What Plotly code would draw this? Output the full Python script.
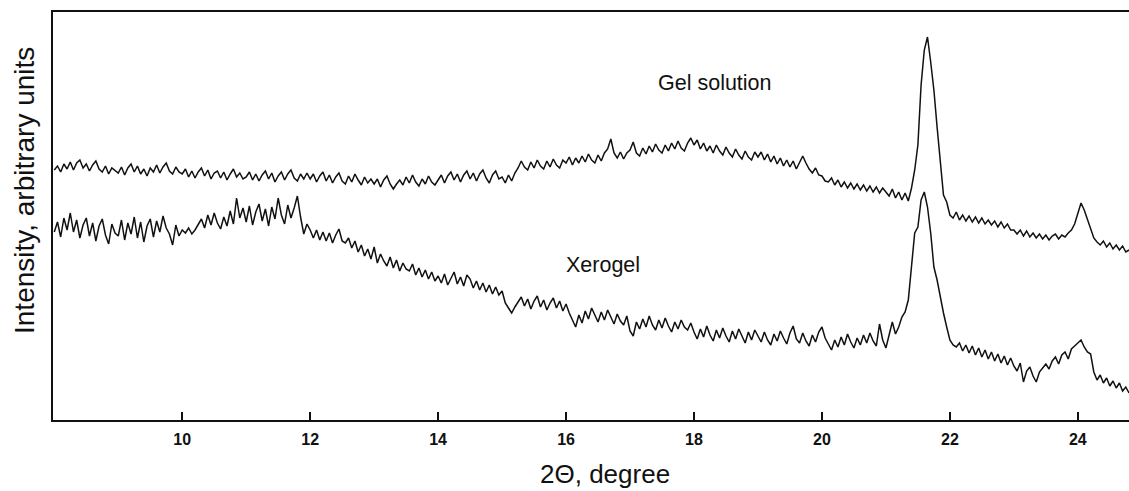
import numpy as np
import plotly.graph_objects as go

# Scan grid of the diffractometer: 2-theta from 8.00 to 24.80 deg, step 0.05 deg
scan_start = 8.0
scan_step = 0.05
n_points = 337
two_theta = np.round(scan_start + scan_step * np.arange(n_points), 2)

# Gel solution intensity (arbitrary units), one row per degree
gel_solution = (
    [250, 254, 248, 256, 251, 258, 250, 257, 260, 252, 256, 249, 255, 259, 251, 248, 254, 246, 252, 249] +
    [247, 253, 245, 252, 256, 248, 254, 246, 251, 244, 252, 248, 255, 247, 253, 257, 249, 246, 253, 248] +
    [246, 251, 243, 249, 242, 248, 252, 244, 250, 241, 247, 249, 242, 248, 240, 246, 251, 243, 247, 241] +
    [243, 248, 240, 246, 239, 245, 249, 241, 247, 238, 244, 248, 240, 246, 250, 242, 239, 246, 241, 247] +
    [241, 246, 238, 244, 248, 239, 245, 237, 243, 247, 239, 236, 244, 238, 246, 240, 235, 243, 237, 241] +
    [236, 241, 233, 240, 244, 236, 231, 236, 240, 235, 243, 237, 245, 238, 234, 241, 236, 244, 238, 235] +
    [240, 245, 237, 244, 248, 240, 246, 238, 245, 249, 241, 247, 239, 246, 250, 242, 237, 245, 249, 241] +
    [243, 237, 245, 239, 247, 252, 259, 253, 250, 258, 252, 260, 254, 251, 259, 253, 261, 255, 252, 260] +
    [257, 263, 255, 262, 257, 264, 258, 266, 260, 257, 265, 259, 267, 271, 281, 267, 262, 268, 261, 267] +
    [270, 278, 267, 264, 272, 266, 274, 268, 276, 270, 267, 275, 269, 277, 271, 279, 272, 269, 277, 282] +
    [275, 280, 271, 277, 269, 274, 267, 275, 269, 265, 273, 267, 263, 271, 265, 261, 269, 263, 260, 268] +
    [263, 268, 260, 266, 258, 264, 256, 262, 254, 260, 253, 259, 251, 257, 264, 257, 251, 247, 252, 245] +
    [244, 239, 238, 242, 235, 240, 233, 238, 232, 237, 231, 236, 230, 235, 229, 234, 228, 233, 227, 232] +
    [228, 224, 231, 222, 228, 220, 227, 219, 232, 250, 275, 335, 370, 383, 358, 330, 293, 255, 225, 218] +
    [205, 202, 208, 200, 205, 199, 204, 198, 203, 197, 202, 196, 200, 195, 199, 193, 198, 192, 196, 190] +
    [190, 186, 190, 184, 189, 183, 187, 182, 186, 181, 185, 180, 184, 186, 181, 185, 183, 187, 190, 196] +
    [207, 217, 210, 200, 190, 182, 178, 175, 179, 173, 177, 171, 175, 170, 174, 168, 170]
)

# Xerogel intensity (arbitrary units), one row per degree
xerogel = (
    [188, 198, 183, 202, 190, 207, 188, 200, 182, 195, 202, 184, 197, 179, 194, 201, 185, 176, 196, 187] +
    [184, 200, 180, 197, 186, 203, 182, 198, 178, 194, 201, 183, 199, 188, 204, 192, 186, 175, 195, 184] +
    [190, 187, 192, 186, 190, 196, 201, 192, 205, 195, 207, 197, 191, 203, 194, 209, 196, 222, 202, 212] +
    [198, 214, 195, 208, 216, 199, 211, 194, 213, 201, 222, 205, 196, 215, 202, 212, 224, 203, 186, 196] +
    [190, 182, 190, 180, 188, 179, 187, 177, 185, 191, 179, 177, 182, 172, 179, 168, 175, 164, 171, 161] +
    [173, 157, 166, 159, 154, 163, 152, 160, 149, 157, 151, 149, 156, 145, 152, 143, 150, 141, 148, 139] +
    [144, 137, 146, 135, 142, 148, 136, 143, 134, 145, 141, 132, 139, 130, 137, 128, 135, 126, 133, 125] +
    [129, 117, 112, 107, 113, 118, 123, 114, 121, 111, 119, 124, 113, 120, 110, 117, 122, 112, 119, 109] +
    [116, 107, 99, 93, 105, 97, 109, 101, 112, 104, 98, 108, 100, 110, 102, 96, 106, 99, 95, 104] +
    [89, 84, 98, 91, 101, 93, 104, 95, 90, 100, 92, 102, 94, 88, 98, 91, 100, 93, 90, 97] +
    [88, 81, 91, 83, 94, 85, 79, 90, 82, 92, 84, 78, 89, 81, 91, 83, 77, 88, 80, 90] +
    [84, 78, 88, 80, 75, 86, 79, 89, 82, 76, 87, 94, 81, 77, 87, 79, 74, 85, 78, 88] +
    [93, 82, 76, 70, 80, 73, 83, 75, 86, 78, 72, 82, 75, 85, 77, 87, 79, 74, 96, 80] +
    [72, 85, 98, 86, 93, 103, 108, 120, 153, 187, 193, 220, 228, 213, 187, 153, 140, 123, 107, 93] +
    [80, 75, 73, 77, 69, 75, 67, 74, 65, 72, 63, 70, 61, 68, 59, 66, 57, 64, 55, 62] +
    [54, 49, 57, 38, 49, 53, 44, 38, 48, 52, 56, 51, 59, 63, 56, 65, 68, 61, 71, 74] +
    [77, 80, 73, 68, 66, 48, 40, 45, 37, 42, 34, 39, 32, 37, 29, 33, 27]
)

tick_values = [10, 12, 14, 16, 18, 20, 22, 24]
tick_labels = ["10", "12", "14", "16", "18", "20", "22", "24"]

FONT = "Arial, Liberation Sans, Helvetica, sans-serif"
INK = "#111111"

fig = go.Figure()
fig.add_trace(go.Scatter(x=two_theta, y=gel_solution, mode="lines",
                         line=dict(color=INK, width=1.5), name="Gel solution",
                         showlegend=False))
fig.add_trace(go.Scatter(x=two_theta, y=xerogel, mode="lines",
                         line=dict(color=INK, width=1.5), name="Xerogel",
                         showlegend=False))

fig.update_layout(
    width=1129, height=491,
    margin=dict(l=53, r=0, t=12, b=71),
    paper_bgcolor="white", plot_bgcolor="white",
    font=dict(family=FONT, color=INK),
    xaxis=dict(range=[7.98, 24.8], tickvals=tick_values, ticktext=tick_labels,
               ticks="inside", ticklen=8, tickwidth=1.5, tickcolor=INK,
               showline=True, linecolor=INK, linewidth=2, mirror=True,
               showgrid=False, zeroline=False,
               tickfont=dict(family=FONT, size=16, color=INK, weight="bold"),
               ticklabelstandoff=4),
    yaxis=dict(range=[0, 408], showticklabels=False, ticks="",
               showline=True, linecolor=INK, linewidth=2,
               showgrid=False, zeroline=False),
    annotations=[
        dict(text="Gel solution", x=18.33, y=337, xref="x", yref="y",
             showarrow=False, font=dict(family=FONT, size=21.5, color=INK)),
        dict(text="Xerogel", x=16.58, y=155, xref="x", yref="y",
             showarrow=False, font=dict(family=FONT, size=21.5, color=INK)),
        dict(text="2Θ, degree", x=(605 - 53) / 1076, y=(420 - 474) / 408,
             xref="paper", yref="paper", xanchor="center", yanchor="middle",
             showarrow=False, font=dict(family=FONT, size=26, color=INK)),
        dict(text="Intensity, arbitrary units", x=(24 - 53) / 1076, y=(420 - 191) / 408,
             xref="paper", yref="paper", xanchor="center", yanchor="middle",
             textangle=-90, showarrow=False, font=dict(family=FONT, size=28, color=INK)),
    ],
)

fig.write_html("out.html")
